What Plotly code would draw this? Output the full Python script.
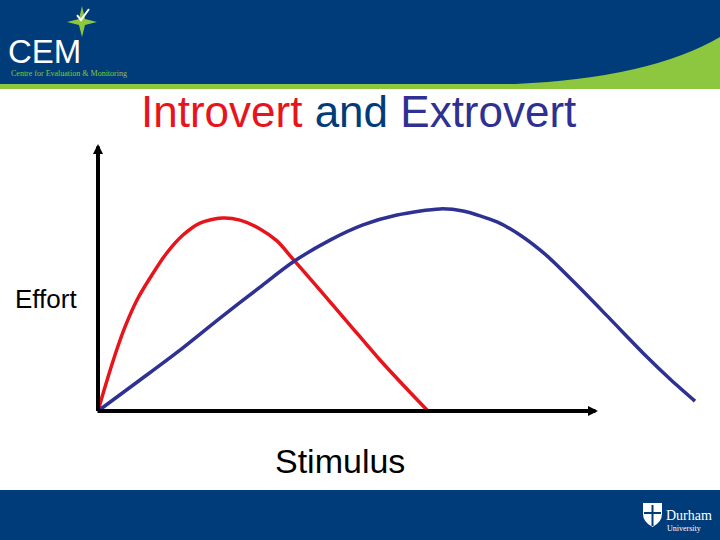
import plotly.graph_objects as go

# ---- data (Stimulus on x, Effort on y) ----
introvert_stimulus = [0, 1.4, 3.4, 5.4, 7.8, 10.4, 13.6, 17.0, 20.4, 24.8, 28.4, 32.4, 35.8, 39.0, 44.4, 50.4, 56.4, 61.4, 66.0]
introvert_effort   = [0, 9.0, 21.0, 31.5, 41.6, 49.8, 58.8, 65.9, 70.4, 72.3, 71.5, 68.2, 63.7, 56.9, 45.3, 32.2, 19.1, 9.0, 0]

extrovert_stimulus = [0, 8.4, 16.4, 24.4, 32.4, 39.0, 46.4, 53.0, 59.8, 68.4, 73.0, 79.8, 84.4, 89.8, 95.4, 102.4, 109.4, 114.4, 119.4]
extrovert_effort   = [0, 11.6, 22.8, 34.8, 46.4, 55.8, 64.0, 69.7, 73.4, 75.7, 74.9, 70.8, 65.9, 58.1, 47.9, 34.5, 21.0, 12.0, 3.7]

axis_max_stimulus = 100
axis_max_effort = 100

title_parts = ["Introvert", "and", "Extrovert"]
x_label = "Stimulus"
y_label = "Effort"

# ---- styling ----
W, H = 720, 540
RED = "#E8141C"
BLUE_CURVE = "#2E3192"
NAVY = "#003C7A"
GREEN = "#8DC63F"
FONT = "Liberation Sans, Arial, sans-serif"


def px(x, y):
    """pixel -> paper coordinate string (decorations only)"""
    return f"{x / W:.5f},{1 - y / H:.5f}"


fig = go.Figure()
fig.add_trace(go.Scatter(x=introvert_stimulus, y=introvert_effort, mode="lines",
                         line=dict(color=RED, width=3.5, shape="spline", smoothing=0.8),
                         name="Introvert", hoverinfo="skip"))
fig.add_trace(go.Scatter(x=extrovert_stimulus, y=extrovert_effort, mode="lines",
                         line=dict(color=BLUE_CURVE, width=3.5, shape="spline", smoothing=0.8),
                         name="Extrovert", hoverinfo="skip"))

shapes = []
# header band
shapes.append(dict(type="rect", xref="paper", yref="paper", x0=0, x1=1, y0=1 - 88 / H, y1=1,
                   fillcolor=NAVY, line_width=0, layer="below"))
# green strip + swoosh
swoosh = (f"M {px(0, 84)} L {px(515, 84)} Q {px(650, 78)} {px(720, 37)} "
          f"L {px(720, 89)} L {px(0, 89)} Z")
shapes.append(dict(type="path", xref="paper", yref="paper", path=swoosh,
                   fillcolor=GREEN, line_width=0, layer="below"))
# CEM star
star = (f"M {px(82, 6)} L {px(85, 19)} L {px(97, 22)} L {px(85, 25)} L {px(82, 37)} "
        f"L {px(79, 25)} L {px(67, 22)} L {px(79, 19)} Z")
shapes.append(dict(type="path", xref="paper", yref="paper", path=star,
                   fillcolor=GREEN, line_width=0, layer="below"))
shapes.append(dict(type="path", xref="paper", yref="paper",
                   path=f"M {px(77, 15)} L {px(81, 20)} L {px(89, 9)}",
                   line=dict(color="white", width=2), layer="below"))
# footer band
shapes.append(dict(type="rect", xref="paper", yref="paper", x0=0, x1=1, y0=0, y1=1 - 490 / H,
                   fillcolor=NAVY, line_width=0, layer="below"))
# Durham shield
shield = (f"M {px(643, 503)} L {px(662, 503)} L {px(662, 514)} Q {px(662, 522)} {px(652.5, 527)} "
          f"Q {px(643, 522)} {px(643, 514)} Z")
shapes.append(dict(type="path", xref="paper", yref="paper", path=shield,
                   fillcolor="white", line_width=0, layer="below"))
shapes.append(dict(type="path", xref="paper", yref="paper",
                   path=f"M {px(652.5, 505)} L {px(652.5, 526)} M {px(644, 513)} L {px(661, 513)}",
                   line=dict(color=NAVY, width=2), layer="below"))
fig.update_layout(shapes=shapes)

ann = []
# axes with arrowheads
ann.append(dict(x=axis_max_stimulus, y=0, ax=-0.4, ay=0, xref="x", yref="y", axref="x", ayref="y",
                text="", showarrow=True, arrowhead=2, arrowsize=0.5, arrowwidth=4,
                arrowcolor="black", standoff=0, startstandoff=0))
ann.append(dict(x=0, y=axis_max_effort, ax=0, ay=-0.6, xref="x", yref="y", axref="x", ayref="y",
                text="", showarrow=True, arrowhead=2, arrowsize=0.5, arrowwidth=4,
                arrowcolor="black", standoff=0, startstandoff=0))
# title
title_html = (f"<span style='color:{RED}'>{title_parts[0]}</span> "
              f"<span style='color:{NAVY}'>{title_parts[1]}</span> "
              f"<span style='color:{BLUE_CURVE}'>{title_parts[2]}</span>")
ann.append(dict(x=358.5 / W, y=1 - 112 / H, xref="paper", yref="paper", text=title_html,
                showarrow=False, xanchor="center", yanchor="middle",
                font=dict(family=FONT, size=44, color=RED)))
# axis labels
ann.append(dict(x=46 / W, y=1 - 299 / H, xref="paper", yref="paper", text=y_label,
                showarrow=False, xanchor="center", yanchor="middle",
                font=dict(family=FONT, size=26, color="black")))
ann.append(dict(x=340 / W, y=1 - 461 / H, xref="paper", yref="paper", text=x_label,
                showarrow=False, xanchor="center", yanchor="middle",
                font=dict(family=FONT, size=34, color="black")))
# CEM logo text
ann.append(dict(x=6 / W, y=1 - 51 / H, xref="paper", yref="paper", text="CEM",
                showarrow=False, xanchor="left", yanchor="middle",
                font=dict(family=FONT, size=33, color="white")))
ann.append(dict(x=9 / W, y=1 - 73 / H, xref="paper", yref="paper",
                text="Centre for Evaluation &amp; Monitoring",
                showarrow=False, xanchor="left", yanchor="middle",
                font=dict(family="Liberation Serif, serif", size=8, color=GREEN)))
# Durham text
ann.append(dict(x=664 / W, y=1 - 515 / H, xref="paper", yref="paper", text="Durham",
                showarrow=False, xanchor="left", yanchor="middle",
                font=dict(family="Liberation Serif, serif", size=14, color="white")))
ann.append(dict(x=665 / W, y=1 - 528 / H, xref="paper", yref="paper", text="University",
                showarrow=False, xanchor="left", yanchor="middle",
                font=dict(family="Liberation Serif, serif", size=8, color="white")))
fig.update_layout(annotations=ann)

x0_px, x100_px = 98, 598
y0_px, y100_px = 411, 144
sx = (x100_px - x0_px) / axis_max_stimulus
sy = (y0_px - y100_px) / axis_max_effort
fig.update_layout(
    width=W, height=H, margin=dict(l=0, r=0, t=0, b=0, pad=0),
    paper_bgcolor="white", plot_bgcolor="white", showlegend=False,
    xaxis=dict(range=[-x0_px / sx, (W - x0_px) / sx], visible=False, fixedrange=True),
    yaxis=dict(range=[(y0_px - H) / sy, y0_px / sy], visible=False, fixedrange=True),
)

fig.write_html("out.html", config={"displayModeBar": False},
               post_script="document.body.style.margin='0';document.body.style.padding='0';"
                           "document.documentElement.style.overflow='hidden';")
